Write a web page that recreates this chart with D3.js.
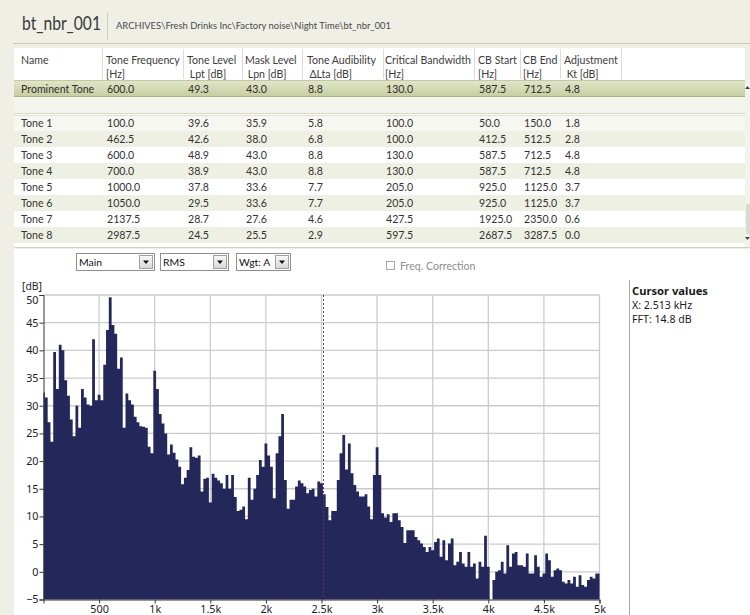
<!DOCTYPE html>
<html>
<head>
<meta charset="utf-8">
<script src="https://cdn.jsdelivr.net/npm/d3@7"></script>
<style>
  body { margin: 0; background: #efefe6; }
  svg { display: block; font-family: Lato, "Noto Sans", sans-serif; }
</style>
</head>
<body>
<svg id="panel" width="750" height="615"></svg>
<script>
// --- datos ---
const titleText = 'bt_nbr_001'
const pathText = 'ARCHIVES\\Fresh Drinks Inc\\Factory noise\\Night Time\\bt_nbr_001'

const columnHeads = [
  ['Name', ''],
  ['Tone Frequency', '[Hz]'],
  ['Tone Level', ' Lpt [dB]'],
  ['Mask Level', ' Lpn [dB]'],
  ['Tone Audibility', ' \u0394Lta [dB]'],
  ['Critical Bandwidth', '[Hz]'],
  ['CB Start', '[Hz]'],
  ['CB End', '[Hz]'],
  ['Adjustment', ' Kt [dB]']
]

const prominentTone = ['Prominent Tone', '600.0', '49.3', '43.0', '8.8', '130.0', '587.5', '712.5', '4.8']

const toneRows = [
  ['Tone 1', '100.0', '39.6', '35.9', '5.8', '100.0', '50.0', '150.0', '1.8'],
  ['Tone 2', '462.5', '42.6', '38.0', '6.8', '100.0', '412.5', '512.5', '2.8'],
  ['Tone 3', '600.0', '48.9', '43.0', '8.8', '130.0', '587.5', '712.5', '4.8'],
  ['Tone 4', '700.0', '38.9', '43.0', '8.8', '130.0', '587.5', '712.5', '4.8'],
  ['Tone 5', '1000.0', '37.8', '33.6', '7.7', '205.0', '925.0', '1125.0', '3.7'],
  ['Tone 6', '1050.0', '29.5', '33.6', '7.7', '205.0', '925.0', '1125.0', '3.7'],
  ['Tone 7', '2137.5', '28.7', '27.6', '4.6', '427.5', '1925.0', '2350.0', '0.6'],
  ['Tone 8', '2987.5', '24.5', '25.5', '2.9', '597.5', '2687.5', '3287.5', '0.0'],
  ['Tone 9', '3875.0', '9.9', '16.3', '-2.4', '816.3', '3675.0', '4487.5', '0.0']
]

const selectBoxes = ['Main', 'RMS', 'Wgt: A']
const checkLabel = 'Freq. Correction'

// espectro FFT, una linea cada 25 Hz desde 0 Hz hasta 5000 Hz
const spectrumDb = [
  32.4, 31.5, 27, 23.5, 39.7, 33, 41, 40, 34.6, 31.8,
  27.5, 24.5, 30, 26, 33, 31.5, 30.2, 30, 42, 31,
  32, 31, 37.4, 43.7, 49.6, 44.6, 43, 36.7, 38.7, 26,
  32.2, 31, 30.2, 28, 27, 26.3, 26.2, 26, 22.6, 21.4,
  36.3, 33, 28.5, 26.8, 25, 21.2, 23, 21.5, 20.3, 19,
  15.8, 17, 18.4, 22.5, 20.8, 20.6, 21, 14.5, 16.8, 17,
  12.5, 17.7, 17, 16.5, 16, 15, 17.5, 15, 17.5, 13.5,
  11, 11.2, 11.8, 9.5, 17, 13, 15, 17.5, 20.2, 19,
  23.2, 21, 19, 13.3, 21.4, 24.5, 28.5, 16.6, 11.4, 13,
  13, 15.4, 16.5, 16, 15.4, 14.2, 14.8, 15, 13.6, 16.3,
  16, 14, 11.7, 9.3, 11, 11, 16.6, 21.4, 24.7, 18.5,
  23.2, 17.8, 15.7, 14.5, 13.6, 13.6, 14, 11.8, 9.5, 17.5,
  22.5, 17.5, 10.6, 9.8, 10.4, 9, 10.6, 10.6, 9.3, 8.1,
  5.2, 7.5, 7.5, 7.5, 6.3, 5.7, 5.1, 4.5, 3.6, 4.5,
  3.9, 5.4, 6, 2.7, 5.7, 2.1, 5.1, 6, 1.2, 1.8,
  3.6, 1.5, 0.9, 3.6, 0.9, 1.5, -1.2, 1.8, 0.9, 6.5,
  0.9, -5, -1.5, 0, 0.3, 1.8, -0.3, 4.8, 0.9, 3.3,
  3.6, 1.2, 1.2, 0.9, 3.3, -0.3, -0.3, 3, 0.9, -0.9,
  -0.3, 3.3, 2.1, -0.9, 0.3, 0.6, 0.3, -1.8, -2.1, -1.5,
  -2.1, -0.9, -2.7, -0.6, -2.4, -2.7, -1.5, -0.9, -1.2, -0.3,
  -0.3
]
const binHz = 25
const spectrumHz = spectrumDb.map((d, i) => i * binHz)

const yTicks = [-5, 0, 5, 10, 15, 20, 25, 30, 35, 40, 45, 50]
const xTicks = [500, 1000, 1500, 2000, 2500, 3000, 3500, 4000, 4500, 5000]
const xTickLabels = ['500', '1k', '1.5k', '2k', '2.5k', '3k', '3.5k', '4k', '4.5k', '5k']

const cursorHz = 2513
const cursorLines = ['Cursor values', 'X: 2.513 kHz', 'FFT: 14.8 dB']

// --- dibujo ---
const svg = d3.select('#panel')
const chartFont = '"Noto Sans", sans-serif'
const tableSize = 10.6

const defs = svg.append('defs')
const gradProm = defs.append('linearGradient').attr('id', 'promGrad').attr('x1', 0).attr('x2', 0).attr('y1', 0).attr('y2', 1)
gradProm.append('stop').attr('offset', '0%').attr('stop-color', '#e2e6cb')
gradProm.append('stop').attr('offset', '100%').attr('stop-color', '#c6cd9f')

const gradBtn = defs.append('linearGradient').attr('id', 'btnGrad').attr('x1', 0).attr('x2', 0).attr('y1', 0).attr('y2', 1)
gradBtn.append('stop').attr('offset', '0%').attr('stop-color', '#fafafa')
gradBtn.append('stop').attr('offset', '100%').attr('stop-color', '#d6d6d6')

defs.append('clipPath').attr('id', 'tableClip')
  .append('rect').attr('x', 14).attr('y', 48).attr('width', 731).attr('height', 199)

// cabecera
svg.append('rect').attr('x', 0).attr('y', 0).attr('width', 750).attr('height', 615).attr('fill', '#efefe6')

svg.append('text')
  .attr('x', 22).attr('y', 30)
  .attr('font-size', 18.5)
  .attr('fill', '#3a3a3a')
  .attr('textLength', 79)
  .attr('lengthAdjust', 'spacingAndGlyphs')
  .text(titleText)

svg.append('line')
  .attr('x1', 107.5).attr('x2', 107.5).attr('y1', 12).attr('y2', 40)
  .attr('stroke', '#cfcfc6')

svg.append('text')
  .attr('x', 116).attr('y', 29)
  .attr('font-size', 9.8)
  .attr('fill', '#4a4a4a')
  .attr('textLength', 275)
  .attr('lengthAdjust', 'spacingAndGlyphs')
  .text(pathText)

svg.append('line')
  .attr('x1', 13).attr('x2', 750).attr('y1', 43.5).attr('y2', 43.5)
  .attr('stroke', '#c9c9c0')

// tabla de tonos
const colX = [21, 106, 187, 245, 307, 385, 478, 523, 564]
const colSep = [102, 183, 242, 302, 383, 474, 520, 560, 621]

const table = svg.append('g').attr('clip-path', 'url(#tableClip)')

table.append('rect')
  .attr('x', 14).attr('y', 48).attr('width', 731).attr('height', 199)
  .attr('fill', '#ffffff')

table.selectAll('line.sep')
  .data(colSep)
  .join('line')
  .attr('class', 'sep')
  .attr('x1', (d) => d + 0.5).attr('x2', (d) => d + 0.5)
  .attr('y1', 49).attr('y2', 79)
  .attr('stroke', '#dcdcd4')

const heads = table.selectAll('g.head')
  .data(columnHeads)
  .join('g')
  .attr('class', 'head')
  .attr('font-size', tableSize)
  .attr('fill', '#3c3c3c')

heads.append('text')
  .attr('x', (d, i) => colX[i]).attr('y', 64)
  .text((d) => d[0])
heads.append('text')
  .attr('x', (d, i) => colX[i]).attr('y', 77.5)
  .style('white-space', 'pre')
  .text((d) => d[1])

table.append('rect')
  .attr('x', 14).attr('y', 80).attr('width', 731).attr('height', 17)
  .attr('fill', 'url(#promGrad)')
table.append('line')
  .attr('x1', 14).attr('x2', 745).attr('y1', 80.5).attr('y2', 80.5)
  .attr('stroke', '#c2c8a0')
table.append('line')
  .attr('x1', 14).attr('x2', 745).attr('y1', 96.5).attr('y2', 96.5)
  .attr('stroke', '#aeb58a')

table.selectAll('text.prom')
  .data(prominentTone)
  .join('text')
  .attr('class', 'prom')
  .attr('x', (d, i) => colX[i] + (i == 0 ? 0 : 1))
  .attr('y', 92.5)
  .attr('font-size', tableSize)
  .attr('fill', '#2e2e2e')
  .text((d) => d)

table.append('rect')
  .attr('x', 14).attr('y', 97).attr('width', 731).attr('height', 17)
  .attr('fill', '#f3f4ec')
table.append('line')
  .attr('x1', 14).attr('x2', 745).attr('y1', 113.5).attr('y2', 113.5)
  .attr('stroke', '#d5d9c2')

const rowH = 16
const rowTop = 115

const rows = table.selectAll('g.tone')
  .data(toneRows)
  .join('g')
  .attr('class', 'tone')
  .attr('transform', (d, i) => `translate(0, ${rowTop + i * rowH})`)

rows.append('rect')
  .attr('x', 14).attr('y', 0).attr('width', 731).attr('height', rowH)
  .attr('fill', (d, i) => (i == 0 ? '#f6f7f0' : (i % 2 == 1 ? '#eef0e3' : '#ffffff')))

rows.selectAll('text')
  .data((d) => d)
  .join('text')
  .attr('x', (d, i) => colX[i] + (i == 0 ? 0 : 1))
  .attr('y', 12.3)
  .attr('font-size', tableSize)
  .attr('fill', '#333333')
  .text((d) => d)

table.append('line')
  .attr('x1', 14).attr('x2', 745).attr('y1', rowTop + 0.5).attr('y2', rowTop + 0.5)
  .attr('stroke', '#dfe2d0')

// barra de desplazamiento
const scroll = svg.append('g')
scroll.append('rect').attr('x', 745).attr('y', 80).attr('width', 5).attr('height', 167).attr('fill', '#f2f2ee')
scroll.append('rect').attr('x', 746).attr('y', 204).attr('width', 4).attr('height', 30).attr('fill', '#d9d9d2')
scroll.append('path').attr('d', 'M747.5 86 L750 89 L745 89 Z').attr('fill', '#444')
scroll.append('path').attr('d', 'M745 237 L750 237 L747.5 240 Z').attr('fill', '#444')

svg.append('line')
  .attr('x1', 14).attr('x2', 750).attr('y1', 247.5).attr('y2', 247.5)
  .attr('stroke', '#d0d0c6')

// zona inferior blanca
svg.append('rect').attr('x', 14).attr('y', 249).attr('width', 736).attr('height', 366).attr('fill', '#ffffff')

// controles
const boxX = [76, 160, 236]
const boxW = [78, 68, 54]

const boxes = svg.selectAll('g.box')
  .data(selectBoxes)
  .join('g')
  .attr('class', 'box')
  .attr('transform', (d, i) => `translate(${boxX[i]}, 253)`)

boxes.append('rect')
  .attr('x', 0.5).attr('y', 0.5)
  .attr('width', (d, i) => boxW[i]).attr('height', 17)
  .attr('fill', '#ffffff').attr('stroke', '#8e8e8e')
boxes.append('text')
  .attr('x', 3).attr('y', 13)
  .attr('font-size', 10.4)
  .attr('fill', '#111')
  .text((d) => d)
boxes.append('rect')
  .attr('x', (d, i) => boxW[i] - 14.5).attr('y', 2.5)
  .attr('width', 13).attr('height', 13)
  .attr('fill', 'url(#btnGrad)').attr('stroke', '#a0a0a0')
boxes.append('path')
  .attr('d', (d, i) => {
    const cx = boxW[i] - 8
    return `M${cx - 3} 7.5 L${cx + 3} 7.5 L${cx} 11 Z`
  })
  .attr('fill', '#111')

svg.append('rect')
  .attr('x', 386.5).attr('y', 261.5).attr('width', 8).attr('height', 8)
  .attr('fill', '#fff').attr('stroke', '#a8a8a8')
svg.append('text')
  .attr('x', 400).attr('y', 270)
  .attr('font-size', 10.6)
  .attr('fill', '#8e8e8e')
  .text(checkLabel)

// grafico del espectro
const x = d3.scaleLinear().domain([0, 5000]).range([43.5, 599.5])
const y = d3.scaleLinear().domain([-5, 50]).range([599.5, 295])

const plot = svg.append('g')

plot.append('rect')
  .attr('x', x(0)).attr('y', y(50))
  .attr('width', x(5000) - x(0)).attr('height', y(-5) - y(50))
  .attr('fill', '#ffffff')

plot.selectAll('line.gy')
  .data(yTicks.filter((d) => d > -5))
  .join('line')
  .attr('class', 'gy')
  .attr('x1', x(0)).attr('x2', x(5000))
  .attr('y1', (d) => y(d)).attr('y2', (d) => y(d))
  .attr('stroke', '#cbcbcb').attr('stroke-width', 1.3)

plot.selectAll('line.gx')
  .data(xTicks)
  .join('line')
  .attr('class', 'gx')
  .attr('x1', (d) => x(d)).attr('x2', (d) => x(d))
  .attr('y1', y(50)).attr('y2', y(-5))
  .attr('stroke', '#cbcbcb').attr('stroke-width', 1.3)

// barras del espectro como area escalonada centrada en cada linea
const spectrumArea = d3.area()
  .x((d, i) => x(spectrumHz[i]))
  .y0(y(-5))
  .y1((d) => y(d))
  .curve(d3.curveStep)

plot.append('path')
  .datum(spectrumDb)
  .attr('d', spectrumArea)
  .attr('fill', '#23275a')

// cursor
plot.append('line')
  .attr('x1', Math.round(x(cursorHz)) + 0.5).attr('x2', Math.round(x(cursorHz)) + 0.5)
  .attr('y1', y(50)).attr('y2', y(-5))
  .attr('stroke', '#6a3060')
  .attr('stroke-dasharray', '2,2')

// ejes
const yAxis = plot.append('g')
  .attr('transform', `translate(${x(0)},0)`)
  .call(d3.axisLeft(y).tickValues(yTicks).tickSize(4).tickPadding(1))
yAxis.select('.domain').attr('stroke', '#333')
yAxis.selectAll('.tick line').attr('stroke', '#333')
yAxis.selectAll('text')
  .attr('font-size', 10.8)
  .attr('font-family', chartFont)
  .attr('fill', '#1d1d1d')
yAxis.selectAll('.tick')
  .filter((d) => d == 50)
  .select('text')
  .attr('transform', 'translate(0,5)')

const xAxis = plot.append('g')
  .attr('transform', `translate(0,${y(-5)})`)
  .call(d3.axisBottom(x).tickValues(xTicks).tickSize(4).tickPadding(2)
    .tickFormat((d, i) => xTickLabels[i]))
xAxis.select('.domain').attr('stroke', '#333')
xAxis.selectAll('.tick line').attr('stroke', '#333')
xAxis.selectAll('text')
  .attr('font-size', 10.8)
  .attr('font-family', chartFont)
  .attr('fill', '#1d1d1d')

svg.append('text')
  .attr('x', 22).attr('y', 290)
  .attr('font-size', 10.4)
  .attr('font-family', chartFont)
  .attr('fill', '#1d1d1d')
  .text('[dB]')

// panel de valores del cursor
svg.append('line')
  .attr('x1', 629.5).attr('x2', 629.5).attr('y1', 280).attr('y2', 615)
  .attr('stroke', '#a9a9a9')

svg.selectAll('text.cursor')
  .data(cursorLines)
  .join('text')
  .attr('class', 'cursor')
  .attr('x', 632)
  .attr('y', (d, i) => 295 + i * 14)
  .attr('font-family', chartFont)
  .attr('font-size', (d, i) => (i == 0 ? 11.2 : 10.6))
  .attr('font-weight', (d, i) => (i == 0 ? 'bold' : 'normal'))
  .attr('fill', '#1a1a1a')
  .text((d) => d)
</script>
</body>
</html>
